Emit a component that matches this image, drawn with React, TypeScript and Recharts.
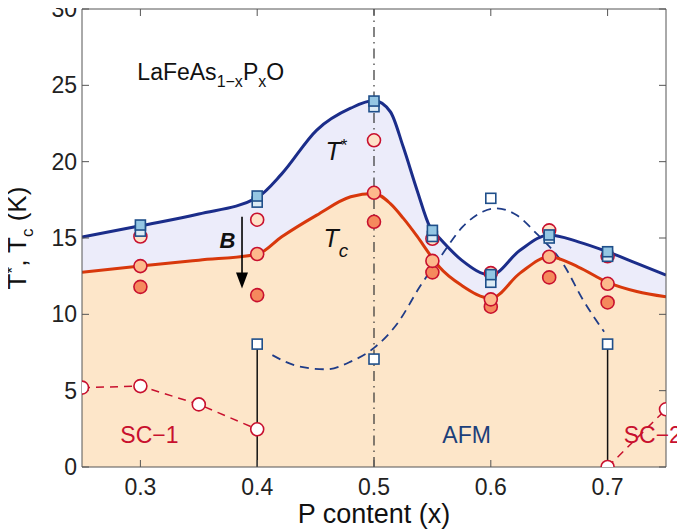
import React from 'react'
import {
  ComposedChart, Area, Line, Scatter, XAxis, YAxis, ReferenceLine, ReferenceDot,
} from 'recharts'

// Smooth fitted curves
const curveX = [0.25, 0.3, 0.35, 0.4, 0.421, 0.451, 0.48, 0.5, 0.514, 0.525, 0.537, 0.548, 0.556, 0.575, 0.6, 0.625, 0.65, 0.675, 0.7, 0.725, 0.75]
const tStarCurve = [15.06, 15.8, 16.57, 17.65, 19.2, 22.07, 23.5, 24.0, 23.27, 20.97, 18.1, 15.7, 15.0, 13.55, 12.57, 14.2, 15.2, 14.75, 14.1, 13.34, 12.57]
const tcCurve = [12.75, 13.16, 13.55, 13.93, 15.08, 16.5, 17.7, 17.92, 17.25, 16.3, 15.1, 13.9, 13.1, 11.9, 11.05, 12.7, 13.77, 13.1, 12.1, 11.5, 11.15]

const afmCurveX = [0.413, 0.435, 0.459, 0.48, 0.5, 0.52, 0.54, 0.557, 0.576, 0.593, 0.605, 0.622, 0.639, 0.662, 0.679, 0.697]
const afmCurve = [7.33, 6.6, 6.4, 6.9, 7.8, 9.4, 11.9, 13.77, 15.74, 16.72, 16.94, 16.5, 15.3, 13.3, 10.94, 8.86]

// Measured points
const px = [0.3, 0.4, 0.5, 0.55, 0.6, 0.65, 0.7]
const tStarSquares = [15.85, 17.75, 23.97, 15.5, 12.6, 15.2, 14.1]
const tStarSquaresLow = [15.45, 17.35, 23.6, 15.1, 12.1, 15.0, 13.8]
const tStarCircles = [15.1, 16.2, 21.4, 14.95, 12.7, 15.5, 13.8]
const tcCircles = [13.16, 13.95, 17.96, 13.5, 10.98, 13.77, 12.0]
const tcCirclesDark = [11.8, 11.26, 16.06, 12.75, 10.5, 12.42, 10.78]

const afmX = [0.4, 0.5, 0.6, 0.7]
const afmSquares = [8.05, 7.07, 17.6, 8.05]

const sc1X = [0.25, 0.3, 0.35, 0.4]
const sc1 = [5.2, 5.3, 4.1, 2.47]
const sc2X = [0.7, 0.75]
const sc2 = [0, 3.78]

const xTicks = [0.3, 0.4, 0.5, 0.6, 0.7]
const yTicks = [0, 5, 10, 15, 20, 25, 30]

const zip = (xs: number[], ys: number[]) => xs.map((x, i) => ({ x, y: ys[i] }))

const FONT = '"Liberation Sans", Arial, Helvetica, sans-serif'
const NAVY = '#1b2d8a'
const TC_RED = '#d8380c'
const CRIMSON = '#c8102e'
const SQ_STROKE = '#1f4f8a'

const square = (fill: string) => (p: any) => (
  <rect x={p.cx - 5} y={p.cy - 5} width={10} height={10} fill={fill} stroke={SQ_STROKE} strokeWidth={1.6} />
)
const circle = (fill: string) => (p: any) => (
  <circle cx={p.cx} cy={p.cy} r={6.5} fill={fill} stroke={CRIMSON} strokeWidth={1.6} />
)

const XTick = (p: any) => (
  <text x={p.x} y={p.y + 28} textAnchor="middle" fontSize={23} fontFamily={FONT} fill="#222">
    {p.payload.value}
  </text>
)
const YTick = (p: any) => (
  <text x={p.x - 5} y={p.y + 8} textAnchor="end" fontSize={23} fontFamily={FONT} fill="#222">
    {p.payload.value}
  </text>
)
const NoTick = () => <g />

const label = (content: React.ReactNode, color = '#111', size = 24, extra: any = {}) => (p: any) => (
  <text x={p.cx} y={p.cy} fontSize={size} fontFamily={FONT} fill={color} {...extra}>
    {content}
  </text>
)

export default function App() {
  const tStarData = zip(curveX, tStarCurve)
  const tcData = zip(curveX, tcCurve)
  const axisColor = '#555'

  return (
    <div style={{ margin: '-8px 0 0 -8px', width: 685, height: 531 }}>
      <ComposedChart width={685} height={531} margin={{ top: 8, right: 9, bottom: 24, left: 22 }}>
        <XAxis
          dataKey="x" type="number" domain={[0.25, 0.75]} ticks={xTicks} height={40}
          allowDataOverflow stroke={axisColor} tickSize={-7} tickMargin={7} tick={<XTick />}
          label={{
            content: (p: any) => (
              <text x={p.viewBox.x + p.viewBox.width / 2} y={p.viewBox.y + 56} textAnchor="middle"
                fontSize={27} fontFamily={FONT} fill="#111">P content (x)</text>
            ),
          }}
        />
        <XAxis xAxisId="top" orientation="top" dataKey="x" type="number" domain={[0.25, 0.75]} ticks={xTicks}
          height={1} allowDataOverflow stroke={axisColor} tickSize={-7} tick={<NoTick />} />
        <YAxis
          type="number" domain={[0, 30]} ticks={yTicks} width={60} allowDataOverflow stroke={axisColor}
          tickSize={-7} tickMargin={7} tick={<YTick />}
          label={{
            content: () => (
              <text transform="translate(26,238) rotate(-90)" textAnchor="middle"
                fontSize={26} fontFamily={FONT} fill="#111">
                T<tspan fontSize={17} dy={-8}>*</tspan><tspan dy={8}>, T</tspan>
                <tspan fontSize={17} dy={7}>c</tspan><tspan dy={-7}> (K)</tspan>
              </text>
            ),
          }}
        />
        <YAxis yAxisId="right" orientation="right" type="number" domain={[0, 30]} ticks={yTicks} width={10}
          allowDataOverflow stroke={axisColor} tickSize={-7} tick={<NoTick />} />

        <Area data={tStarData} dataKey="y" type="monotone" fill="#ececfa" fillOpacity={1} stroke="none" isAnimationActive={false} />
        <Area data={tcData} dataKey="y" type="monotone" fill="#fde6c9" fillOpacity={1} stroke="none" isAnimationActive={false} />

        <ReferenceLine x={0.5} stroke="#333" strokeWidth={1.2} strokeDasharray="10 5 1.5 5" />

        <Line data={zip(afmCurveX, afmCurve)} dataKey="y" type="monotone" stroke="#1f3c88" strokeWidth={1.8}
          strokeDasharray="9 6" dot={false} isAnimationActive={false} />
        <Line data={tStarData} dataKey="y" type="monotone" stroke={NAVY} strokeWidth={3} dot={false} isAnimationActive={false} />
        <Line data={tcData} dataKey="y" type="monotone" stroke={TC_RED} strokeWidth={3} dot={false} isAnimationActive={false} />
        <Line data={zip(sc1X, sc1)} dataKey="y" type="linear" stroke={CRIMSON} strokeWidth={1.5}
          strokeDasharray="8 6" dot={false} isAnimationActive={false} />
        <Line data={zip(sc2X, sc2)} dataKey="y" type="linear" stroke={CRIMSON} strokeWidth={1.5}
          strokeDasharray="8 6" dot={false} isAnimationActive={false} />

        <ReferenceLine segment={[{ x: afmX[0], y: 0 }, { x: afmX[0], y: afmSquares[0] }]} stroke="#111" strokeWidth={1.5} />
        <ReferenceLine segment={[{ x: afmX[3], y: 0 }, { x: afmX[3], y: afmSquares[3] }]} stroke="#111" strokeWidth={1.5} />

        <Scatter data={zip(px, tcCirclesDark)} dataKey="y" shape={circle('#f5895d')} isAnimationActive={false} />
        <Scatter data={zip(px, tcCircles)} dataKey="y" shape={circle('#fdb98c')} isAnimationActive={false} />
        <Scatter data={zip(px, tStarCircles)} dataKey="y" shape={circle('#fee2c8')} isAnimationActive={false} />
        <Scatter data={zip(px, tStarSquaresLow)} dataKey="y" shape={square('#dcebf5')} isAnimationActive={false} />
        <Scatter data={zip(px, tStarSquares)} dataKey="y" shape={square('#94c6e3')} isAnimationActive={false} />
        <Scatter data={zip(afmX, afmSquares)} dataKey="y" shape={square('#ffffff')} isAnimationActive={false} />
        <Scatter data={zip(sc1X, sc1)} dataKey="y" shape={circle('#ffffff')} isAnimationActive={false} />
        <Scatter data={zip(sc2X, sc2)} dataKey="y" shape={circle('#ffffff')} isAnimationActive={false} />

        {/* field arrow */}
        <ReferenceLine segment={[{ x: 0.387, y: 16.4 }, { x: 0.387, y: 12.6 }]} stroke="#000" strokeWidth={1.6} />
        <ReferenceDot x={0.387} y={11.7} ifOverflow="visible"
          shape={(p: any) => <polygon points={`${p.cx},${p.cy} ${p.cx - 6},${p.cy - 16} ${p.cx + 6},${p.cy - 16}`} fill="#000" />} />

        {/* annotations */}
        <ReferenceDot x={0.2974} y={25.34} ifOverflow="visible" shape={label(
          <>LaFeAs<tspan fontSize={16} dy={7}>1−x</tspan><tspan dy={-7}>P</tspan><tspan fontSize={16} dy={7}>x</tspan><tspan dy={-7}>O</tspan></>,
          '#111', 23)} />
        <ReferenceDot x={0.4584} y={20.1} ifOverflow="visible" shape={label(
          <><tspan fontStyle="italic">T</tspan><tspan fontSize={17} dy={-9}>*</tspan></>, '#111', 25)} />
        <ReferenceDot x={0.4567} y={14.43} ifOverflow="visible" shape={label(
          <><tspan fontStyle="italic">T</tspan><tspan fontStyle="italic" fontSize={19} dy={10}>c</tspan></>, '#111', 25)} />
        <ReferenceDot x={0.3677} y={14.34} ifOverflow="visible" shape={label('B', '#111', 22, { fontStyle: 'italic', fontWeight: 'bold' })} />
        <ReferenceDot x={0.2828} y={1.55} ifOverflow="visible" shape={label('SC−1', CRIMSON, 23)} />
        <ReferenceDot x={0.5585} y={1.55} ifOverflow="visible" shape={label('AFM', '#1c3f7a', 23)} />
        <ReferenceDot x={0.7138} y={1.55} ifOverflow="visible" shape={label('SC−2', CRIMSON, 23)} />
      </ComposedChart>
    </div>
  )
}
